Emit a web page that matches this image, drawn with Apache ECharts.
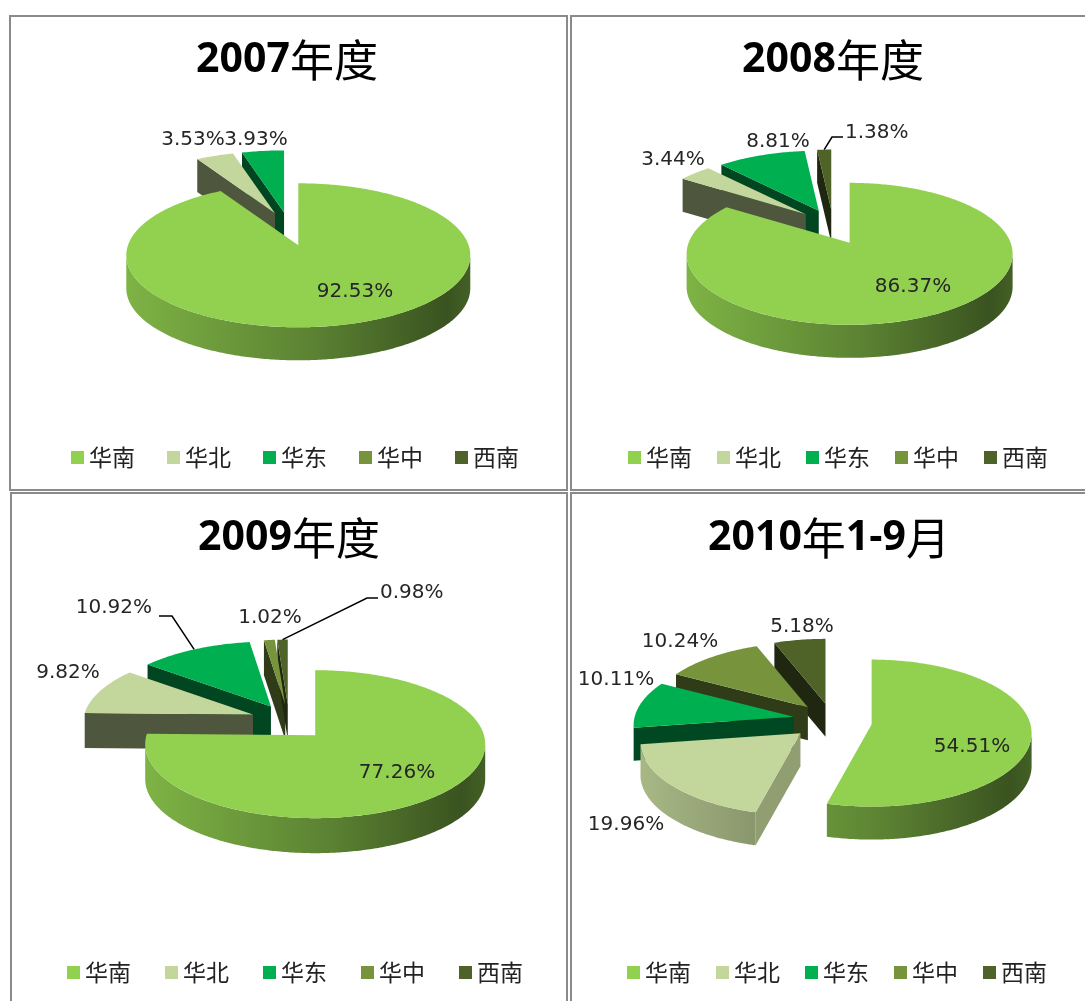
<!DOCTYPE html>
<html>
<head>
<meta charset="utf-8">
<title>区域销售占比</title>
<script src="https://cdn.jsdelivr.net/npm/echarts@6/dist/echarts.min.js"></script>
<style>
  html, body { margin: 0; padding: 0; background: #ffffff; }
  #chart { width: 1085px; height: 1001px; }
</style>
</head>
<body>
<div id="chart"></div>
<script>
// ---- data ----
const regions = ['华南', '华北', '华东', '华中', '西南'];
const share2007 = [92.53, 3.53, 3.93, 0, 0];
const share2008 = [86.37, 3.44, 8.81, 0, 1.38];
const share2009 = [77.26, 9.82, 10.92, 1.02, 0.98];
const share2010 = [54.51, 19.96, 10.11, 10.24, 5.18];
const periodTitles = ['2007年度', '2008年度', '2009年度', '2010年1-9月'];
const shares = [share2007, share2008, share2009, share2010];

// ---- styling ----
const regionColors = ['#92D050', '#C3D69B', '#00B050', '#77933C', '#4F6228'];
const labelFont = '20px "DejaVu Sans"';
const labelColor = '#262626';

// Pie geometry per panel: apex (cx, cy) of the un-exploded pie, horizontal radius,
// back/front vertical radii (perspective), wall depth and explode distance.
// Label anchors are offsets from the apex.
const pieLayout = [
  { cx: 289, cy: 229, rx: 172, ryB: 62, ryF: 82, depth: 33, explode: 40,
    labels: [
      { at: [66, 63], align: 'center' },
      { at: [-96, -89], align: 'center' },
      { at: [-33, -89], align: 'center' },
      null, null
    ] },
  { cx: 833, cy: 227, rx: 163, ryB: 60, ryF: 82, depth: 33, explode: 40,
    labels: [
      { at: [80, 60], align: 'center' },
      { at: [-160, -67], align: 'center' },
      { at: [-55, -85], align: 'center' },
      null,
      { at: [12, -94], align: 'left', leader: [[-1, -90], [10, -90]] }
    ] },
  { cx: 289, cy: 722, rx: 170, ryB: 65, ryF: 83, depth: 35, explode: 40,
    labels: [
      { at: [108, 51], align: 'center' },
      { at: [-221, -49], align: 'center' },
      { at: [-137, -114], align: 'right', leader: [[-117, -106], [-130, -106]] },
      { at: [-19, -104], align: 'center' },
      { at: [91, -129], align: 'left', leader: [[78, -124], [89, -124]] }
    ] },
  { cx: 832, cy: 722, rx: 160, ryB: 65, ryF: 82, depth: 33, explode: 40,
    labels: [
      { at: [140, 25], align: 'center' },
      { at: [-206, 103], align: 'center' },
      { at: [-216, -42], align: 'center' },
      { at: [-152, -80], align: 'center' },
      { at: [-30, -95], align: 'center' }
    ] }
];

const panelBoxes = [
  { x: 10, y: 16, w: 557, h: 474 },
  { x: 571, y: 16, w: 530, h: 474 },
  { x: 11, y: 493, w: 556, h: 520 },
  { x: 571, y: 493, w: 530, h: 520 }
];
const titleCenters = [[287, 64], [833, 64], [289, 542], [829, 542]];
const legendOrigins = [[71, 446], [628, 446], [67, 961], [627, 961]];
const legendGaps = [32, 25, 34, 25];

function shade(hex, f) {
  const n = parseInt(hex.slice(1), 16);
  const r = Math.round(((n >> 16) & 255) * f);
  const g = Math.round(((n >> 8) & 255) * f);
  const b = Math.round((n & 255) * f);
  return 'rgb(' + r + ',' + g + ',' + b + ')';
}

const RAD = Math.PI / 180;

function makeRenderer(p, r) {
  const L = pieLayout[p];
  const vals = shares[p];
  const total = vals.reduce((a, b) => a + b, 0);
  let before = 0;
  for (let i = 0; i < r; i++) before += vals[i];
  const color = regionColors[r];
  const ry = (L.ryB + L.ryF) / 2;       // ellipse vertical radius
  const pshift = (L.ryF - L.ryB) / 2;   // ellipse centre sits below the apex

  return function (params, api) {
    const v = api.value(0);
    if (!v) return null;
    const a1 = before / total * 360;
    const a2 = a1 + v / total * 360;
    const m = (a1 + a2) / 2;
    const kv = ry / L.rx;
    const ox = L.explode * Math.sin(m * RAD);
    const oy = -L.explode * Math.cos(m * RAD) * kv;
    const ax = L.cx + ox, ay = L.cy + oy;

    const rim = (t, dz) => [
      ax + L.rx * Math.sin(t * RAD),
      ay + pshift - ry * Math.cos(t * RAD) + (dz || 0)
    ];
    const arc = (from, to, dz) => {
      const pts = [];
      const n = Math.max(2, Math.ceil(Math.abs(to - from) / 0.75));
      for (let i = 0; i <= n; i++) pts.push(rim(from + (to - from) * i / n, dz));
      return pts;
    };

    const depthRank = Math.round((1 - Math.cos(m * RAD)) * 100) * 10;
    const children = [];

    // outer curved wall (front half only)
    const lo = Math.max(a1, 90), hi = Math.min(a2, 270);
    if (hi > lo) {
      const pts = arc(lo, hi, 0).concat(arc(hi, lo, L.depth));
      children.push({
        type: 'polygon',
        z2: depthRank + 1,
        shape: { points: pts },
        style: {
          fill: new echarts.graphic.LinearGradient(ax - L.rx, 0, ax + L.rx, 0, [
            { offset: 0, color: shade(color, 0.86) },
            { offset: 0.55, color: shade(color, 0.62) },
            { offset: 0.93, color: shade(color, 0.4) },
            { offset: 1, color: shade(color, 0.46) }
          ], true),
          stroke: null
        }
      });
    }

    // radial cut faces
    const face = (t, f) => {
      const p0 = rim(t, 0), p1 = rim(t, L.depth);
      children.push({
        type: 'polygon',
        z2: depthRank + 2,
        shape: { points: [[ax, ay], p0, p1, [ax, ay + L.depth]] },
        style: { fill: shade(color, f), stroke: null }
      });
    };
    if (-Math.sin(a1 * RAD) > 1e-6) face(a1, 0.4 + 0.35 * Math.max(0, -Math.cos(a1 * RAD)));
    if (Math.sin(a2 * RAD) > 1e-6) face(a2, 0.4 + 0.35 * Math.max(0, Math.cos(a2 * RAD)));

    // top face
    children.push({
      type: 'polygon',
      z2: depthRank + 3,
      shape: { points: [[ax, ay]].concat(arc(a1, a2, 0)) },
      style: { fill: color, stroke: null }
    });

    // value label (and leader line when the label sits away from the slice)
    const lab = L.labels[r];
    if (lab) {
      const lx = L.cx + lab.at[0], ly = L.cy + lab.at[1];
      if (lab.leader) {
        const start = rim(m, 0);
        const pts = [start].concat(lab.leader.map(q => [L.cx + q[0], L.cy + q[1]]));
        children.push({
          type: 'polyline',
          z2: 9000,
          shape: { points: pts },
          style: { stroke: '#000000', lineWidth: 1.5, fill: null }
        });
      }
      children.push({
        type: 'text',
        z2: 9001,
        style: {
          text: v.toFixed(2) + '%',
          x: lx, y: ly,
          align: lab.align, verticalAlign: 'middle',
          font: labelFont, fill: labelColor
        }
      });
    }
    return { type: 'group', children: children };
  };
}

const series = [];
shares.forEach((vals, p) => {
  regions.forEach((name, r) => {
    series.push({
      type: 'custom',
      name: name,
      coordinateSystem: 'none',
      itemStyle: { color: regionColors[r] },
      data: [[vals[r]]],
      renderItem: makeRenderer(p, r),
      silent: true
    });
  });
});

function titleRich(t) {
  // digits bold, CJK characters regular
  return t.replace(/([0-9\-]+)/g, '\u0001$1\u0002')
          .split(/(\u0001[^\u0002]*\u0002)/)
          .filter(s => s.length)
          .map(s => s.charAt(0) === '\u0001' ? '{d|' + s.slice(1, -1) + '}' : '{c|' + s + '}')
          .join('');
}

const option = {
  backgroundColor: '#ffffff',
  animation: false,
  graphic: panelBoxes.map(b => ({
    type: 'rect',
    silent: true,
    shape: { x: b.x, y: b.y, width: b.w, height: b.h },
    style: { fill: null, stroke: '#8a8a8a', lineWidth: 2 }
  })),
  title: periodTitles.map((t, i) => ({
    text: titleRich(t),
    left: titleCenters[i][0],
    top: titleCenters[i][1] - 26,
    textAlign: 'center',
    padding: 0,
    textStyle: {
      rich: {
        d: { fontFamily: 'Open Sans', fontWeight: 'bold', fontSize: 41, color: '#000' },
        c: { fontFamily: 'Noto Sans CJK SC', fontWeight: 'normal', fontSize: 44, color: '#000' }
      }
    }
  })),
  legend: legendOrigins.map((o, i) => ({
    data: regions,
    left: o[0],
    top: o[1],
    padding: 0,
    icon: 'rect',
    itemWidth: 13,
    itemHeight: 13,
    itemGap: legendGaps[i],
    selectedMode: false,
    textStyle: { fontFamily: 'Noto Sans CJK SC', fontSize: 23, color: '#222' }
  })),
  series: series
};

const chart = echarts.init(document.getElementById('chart'), null, { renderer: 'canvas' });
chart.setOption(option);
</script>
</body>
</html>
